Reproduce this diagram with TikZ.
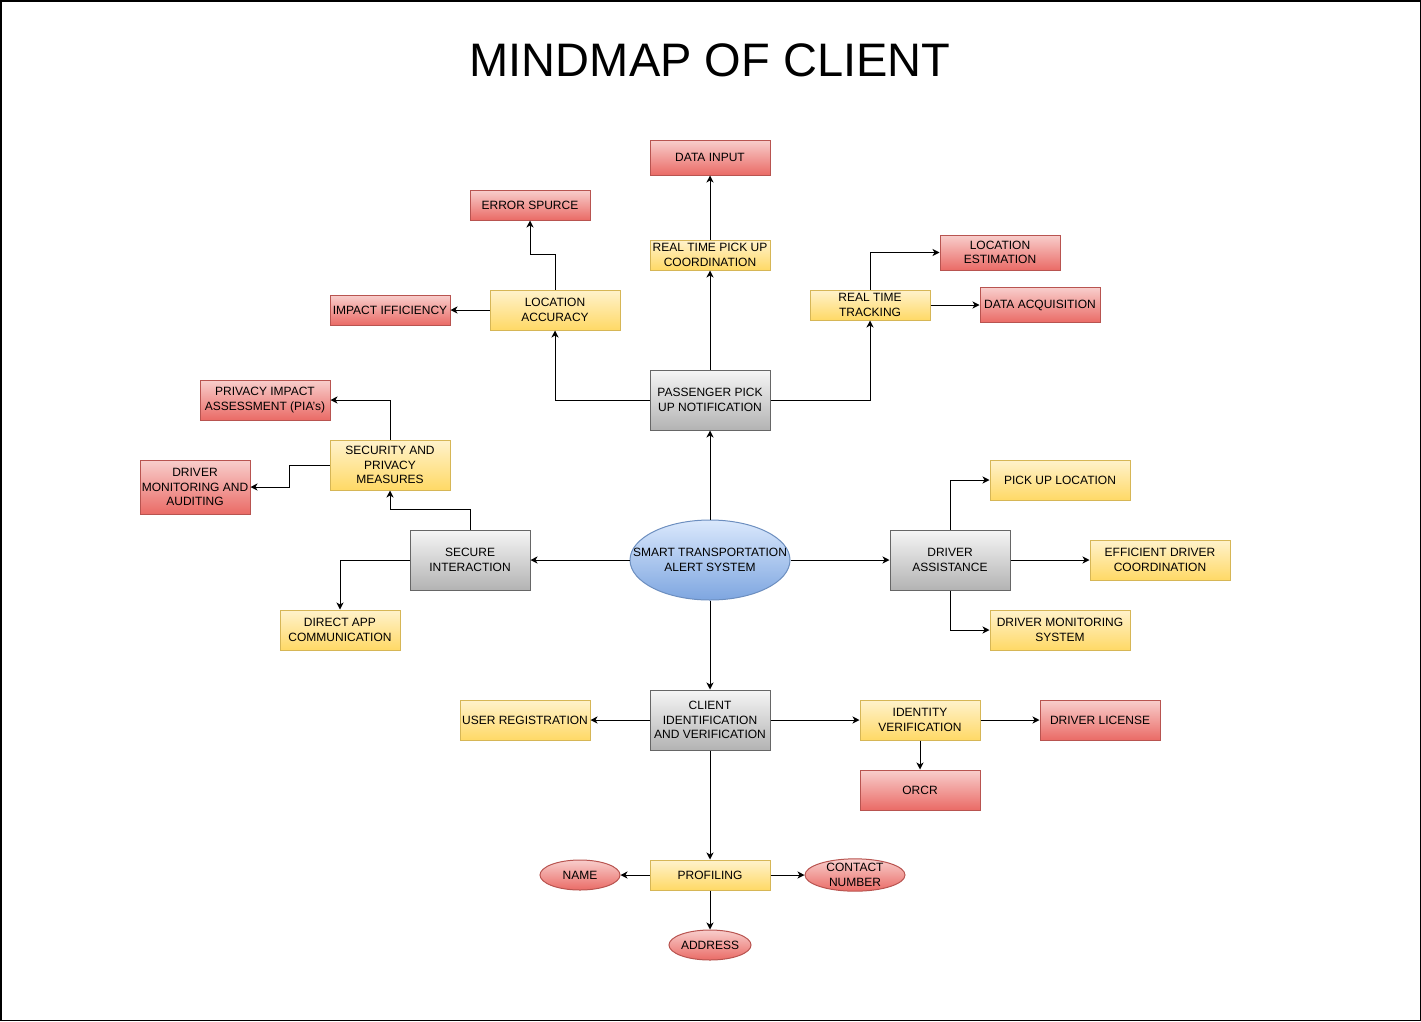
\documentclass[tikz,border=0pt]{standalone}
\usepackage{fontspec}
\setmainfont{Liberation Sans}
\usetikzlibrary{arrows.meta,shapes.geometric}
\definecolor{ytop}{HTML}{FFF2CC}\definecolor{ybot}{HTML}{FFD966}\definecolor{ystr}{HTML}{D6B656}
\definecolor{rtop}{HTML}{F8CECC}\definecolor{rbot}{HTML}{EA6B66}\definecolor{rstr}{HTML}{B85450}
\definecolor{gtop}{HTML}{F5F5F5}\definecolor{gbot}{HTML}{B3B3B3}\definecolor{gstr}{HTML}{666666}
\definecolor{btop}{HTML}{DAE8FC}\definecolor{bbot}{HTML}{7EA6E0}\definecolor{bstr}{HTML}{6C8EBF}
\tikzset{
  box/.style={rectangle,inner sep=0pt,align=center,line width=1bp,
    font=\fontsize{12bp}{14.4bp}\selectfont,minimum width=120bp},
  ybox/.style={box,draw=ystr,top color=ytop,bottom color=ybot},
  rbox/.style={box,draw=rstr,top color=rtop,bottom color=rbot},
  gbox/.style={box,draw=gstr,top color=gtop,bottom color=gbot},
  rell/.style={ellipse,inner sep=0pt,align=center,line width=1bp,
    font=\fontsize{12bp}{14.4bp}\selectfont,draw=rstr,top color=rtop,bottom color=rbot},
  bell/.style={ellipse,inner sep=0pt,align=center,line width=1bp,
    font=\fontsize{12bp}{14.4bp}\selectfont,draw=bstr,top color=btop,bottom color=bbot},
  arr/.style={line width=1bp,-{Stealth[length=7bp,width=7bp,inset=2bp]}}
}
\begin{document}
\begin{tikzpicture}[x=1bp,y=-1bp]
\useasboundingbox (0,0) rectangle (1421,1021);
\draw[line width=1.5bp] (0.75,0.75) rectangle (1420.25,1020.25);
\node[font=\fontsize{47bp}{56bp}\selectfont] (title) at (710,60) {MINDMAP OF CLIENT};

% central
\node[bell,inner xsep=-40bp,minimum width=160bp,minimum height=80bp] (core) at (710,560) {SMART TRANSPORTATION\\ALERT SYSTEM};

% top branch
\node[gbox,minimum height=60bp] (pass) at (710,400) {PASSENGER PICK\\UP NOTIFICATION};
\node[ybox,minimum height=30bp] (rtpu) at (710,255) {REAL TIME PICK UP\\COORDINATION};
\node[rbox,minimum height=35bp] (datain) at (710,157.5) {DATA INPUT};
\node[ybox,minimum width=130bp,minimum height=40bp] (locacc) at (555,310) {LOCATION\\ACCURACY};
\node[rbox,minimum height=30bp] (err) at (530,205) {ERROR SPURCE};
\node[rbox,minimum height=30bp] (impact) at (390,310) {IMPACT IFFICIENCY};
\node[ybox,minimum height=30bp] (rtt) at (870,305) {REAL TIME\\TRACKING};
\node[rbox,minimum height=35bp] (locest) at (1000,252.5) {LOCATION\\ESTIMATION};
\node[rbox,minimum height=35bp] (dacq) at (1040,305) {DATA ACQUISITION};

% left branch
\node[gbox,minimum height=60bp] (secure) at (470,560) {SECURE\\INTERACTION};
\node[ybox,minimum height=50bp] (secpriv) at (390,465) {SECURITY AND\\PRIVACY\\MEASURES};
\node[rbox,minimum width=130bp,minimum height=40bp] (pia) at (265,400) {PRIVACY IMPACT\\ASSESSMENT (PIA's)};
\node[rbox,minimum width=110bp,minimum height=54bp] (drvmon) at (195,487) {DRIVER\\MONITORING AND\\AUDITING};
\node[ybox,minimum height=40bp] (direct) at (340,630) {DIRECT APP\\COMMUNICATION};

% right branch
\node[gbox,minimum height=60bp] (drvass) at (950,560) {DRIVER\\ASSISTANCE};
\node[ybox,minimum width=140bp,minimum height=40bp] (pickup) at (1060,480) {PICK UP LOCATION};
\node[ybox,minimum width=140bp,minimum height=40bp] (effic) at (1160,560) {EFFICIENT DRIVER\\COORDINATION};
\node[ybox,minimum width=140bp,minimum height=40bp] (dms) at (1060,630) {DRIVER MONITORING\\SYSTEM};

% bottom branch
\node[gbox,minimum height=60bp] (client) at (710,720) {CLIENT\\IDENTIFICATION\\AND VERIFICATION};
\node[ybox,minimum width=130bp,minimum height=40bp] (userreg) at (525,720) {USER REGISTRATION};
\node[ybox,minimum height=40bp] (ident) at (920,720) {IDENTITY\\VERIFICATION};
\node[rbox,minimum height=40bp] (license) at (1100,720) {DRIVER LICENSE};
\node[rbox,minimum height=40bp] (orcr) at (920,790) {ORCR};
\node[ybox,minimum height=30bp] (prof) at (710,875) {PROFILING};
\node[rell,minimum width=80bp,minimum height=30bp] (name) at (580,875) {NAME};
\node[rell,inner xsep=-10bp,minimum width=100bp,minimum height=30bp] (contact) at (855,875) {CONTACT\\NUMBER};
\node[rell,minimum width=80bp,minimum height=30bp] (addr) at (710,945) {ADDRESS};

% connectors
\draw[arr] (core.north) -- (pass.south);
\draw[arr] (pass.north) -- (rtpu.south);
\draw[arr] (rtpu.north) -- (datain.south);
\draw[arr] (pass.west) -| (locacc.south);
\draw[arr] (locacc.north) -- ++(0,-35) -| (err.south);
\draw[arr] (locacc.west) -- (impact.east);
\draw[arr] (pass.east) -| (rtt.south);
\draw[arr] (rtt.north) |- (locest.west);
\draw[arr] (rtt.east) -- (dacq.west);

\draw[arr] (core.west) -- (secure.east);
\draw[arr] (secure.north) -- ++(0,-20) -| (secpriv.south);
\draw[arr] (secure.west) -| (direct.north);
\draw[arr] (secpriv.north) |- (pia.east);
\draw[arr] (secpriv.west) -- ++(-40,0) |- (drvmon.east);

\draw[arr] (core.east) -- (drvass.west);
\draw[arr] (drvass.north) |- (pickup.west);
\draw[arr] (drvass.east) -- (effic.west);
\draw[arr] (drvass.south) |- (dms.west);

\draw[arr] (core.south) -- (client.north);
\draw[arr] (client.west) -- (userreg.east);
\draw[arr] (client.east) -- (ident.west);
\draw[arr] (ident.east) -- (license.west);
\draw[arr] (ident.south) -- (orcr.north);
\draw[arr] (client.south) -- (prof.north);
\draw[arr] (prof.west) -- (name.east);
\draw[arr] (prof.east) -- (contact.west);
\draw[arr] (prof.south) -- (addr.north);
\end{tikzpicture}
\end{document}
